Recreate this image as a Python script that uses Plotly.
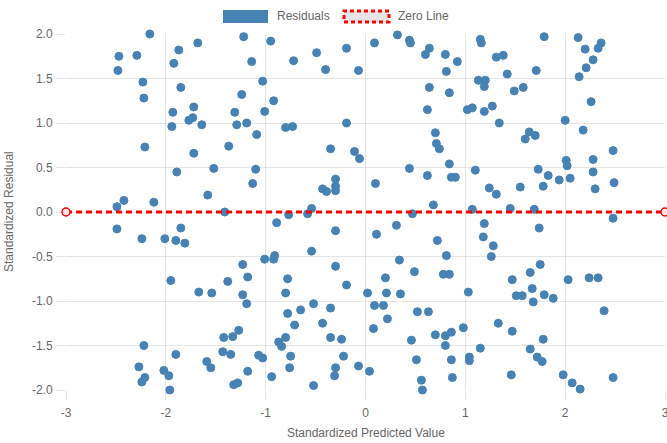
import plotly.graph_objects as go

# Standardized predicted values (x) and standardized residuals (y)
pred_values = [
    -2.47, -2.48, -2.29, -2.16, -2.23, -2.22, -2.21, -2.49, -2.42, -2.12,
    -1.87, -1.92, -1.68, -1.85, -1.93, -1.72, -1.77, -1.73, -1.64, -1.94,
    -1.72, -1.89, -1.52, -1.58, -1.41, -1.22, -1.14, -1.24, -1.31, -1.29,
    -1.19, -1.09, -1.37, -1.10, -1.13,
    -0.95, -1.03, -0.72, -0.49, -0.19, -0.40, -0.07, -0.92, -1.01, -0.80,
    -0.73, -0.19, -0.35, -0.11, -0.06, -0.30, -0.43, -0.39, -0.30, -0.30,
    -0.54, 0.10, 0.09, 0.32, 0.44, 0.45, 0.60, 0.64, 0.80, 0.92,
    0.81, 0.64, 0.84, 0.62, 0.70, 0.71, 0.74, 0.84, 0.44, 0.62,
    0.86, 0.90, 0.68,
    1.15, 1.16, 1.79, 2.13, 2.20, 2.36, 2.33, 1.31, 1.38, 2.28,
    2.21, 2.14, 1.71, 1.42, 1.13, 1.20, 1.19, 1.49, 1.58, 1.02,
    1.07, 1.19, 1.27, 2.26, 1.34, 2.00, 2.18, 1.64, 1.70, 1.60,
    2.48, 2.01, 2.02, 2.28, 2.28, 2.49, 2.30, 1.10, 1.73, 1.83,
    1.94, 2.05, 1.78, 1.55, 1.24, 1.31, 1.07, 1.45, 1.69,
    -2.49, -2.24, -2.01, -1.90, -1.85, -1.81, -1.95, -1.67, -1.54, -1.38,
    -1.23, -1.18, -1.23, -1.19, -2.22, -2.27, -2.21, -2.24, -1.96, -2.02,
    -1.97, -1.90, -1.59, -1.55, -1.43, -1.42, -1.33, -1.27, -1.35, -1.18,
    -1.32, -1.28, -1.07,
    -0.58, -0.77, 0.47, -0.89, -0.30, 0.11, 0.31, 0.72, -1.01, -0.92,
    -0.91, -0.54, -0.30, -0.19, 0.34, 0.49, 0.81, 0.78, 0.84, -0.78,
    -0.80, 0.02, 0.20, 0.21, 0.35, -0.52, -0.78, -0.65, -0.35, -0.71,
    -0.43, 0.09, 0.18, 0.22, 0.08, 0.52, 0.63, -0.87, -0.80, -0.84,
    -0.35, -0.24, 0.46, 0.70, 0.80, 0.86, 0.80, -1.03, -0.75, -0.76,
    -0.94, -0.22, -0.30, -0.31, -0.52, -0.07, 0.04, 0.51, 0.56, 0.57,
    0.86, 0.87,
    2.48, 1.19, 1.18, 1.74, 1.28, 1.26, 1.75, 1.65, 1.47, 2.03,
    2.24, 2.33, 1.03, 1.51, 1.57, 1.67, 1.79, 1.88, 1.68, 2.39,
    0.98, 1.33, 1.47, 1.78, 1.15, 1.65, 1.04, 1.04, 1.72, 1.77,
    1.46, 1.98, 2.07, 2.15, 2.48,
]
residuals = [
    1.75, 1.59, 1.76, 2.00, 1.46, 1.28, 0.73, 0.06, 0.13, 0.11,
    1.82, 1.67, 1.90, 1.40, 1.12, 1.18, 1.03, 1.06, 0.98, 0.96,
    0.66, 0.45, 0.49, 0.19, 0.00, 1.97, 1.69, 1.32, 1.12, 0.98,
    1.00, 0.87, 0.74, 0.48, 0.32,
    1.92, 1.47, 1.70, 1.79, 1.84, 1.60, 1.59, 1.25, 1.13, 0.95,
    0.96, 1.00, 0.71, 0.68, 0.60, 0.37, 0.26, 0.23, 0.29, 0.24,
    0.04, 0.32, 1.90, 1.99, 1.93, 1.90, 1.77, 1.84, 1.77, 1.69,
    1.58, 1.40, 1.34, 1.15, 0.89, 0.77, 0.71, 0.54, 0.49, 0.41,
    0.39, 0.39, 0.08,
    1.94, 1.90, 1.97, 1.96, 1.83, 1.90, 1.84, 1.74, 1.76, 1.71,
    1.62, 1.52, 1.59, 1.55, 1.48, 1.48, 1.41, 1.36, 1.40, 1.15,
    1.17, 1.13, 1.19, 1.24, 1.00, 1.03, 0.92, 0.90, 0.86, 0.82,
    0.69, 0.58, 0.52, 0.59, 0.45, 0.33, 0.26, 0.47, 0.48, 0.41,
    0.36, 0.38, 0.29, 0.28, 0.27, 0.20, 0.03, 0.04, 0.03,
    -0.19, -0.30, -0.30, -0.32, -0.18, -0.35, -0.77, -0.90, -0.91, -0.78,
    -0.59, -0.73, -0.93, -1.03, -1.50, -1.74, -1.86, -1.91, -2.00, -1.78,
    -1.84, -1.60, -1.68, -1.75, -1.57, -1.41, -1.40, -1.33, -1.60, -1.79,
    -1.94, -1.92, -1.61,
    -0.02, -0.03, -0.02, -0.12, -0.21, -0.25, -0.15, -0.32, -0.53, -0.53,
    -0.49, -0.44, -0.61, -0.82, -0.54, -0.67, -0.49, -0.70, -0.70, -0.75,
    -0.91, -0.91, -0.74, -0.91, -0.92, -1.03, -1.14, -1.10, -1.08, -1.27,
    -1.25, -1.05, -1.05, -1.20, -1.31, -1.12, -1.12, -1.46, -1.41, -1.51,
    -1.41, -1.43, -1.44, -1.38, -1.39, -1.35, -1.50, -1.64, -1.62, -1.75,
    -1.85, -1.62, -1.75, -1.84, -1.95, -1.73, -1.79, -1.66, -1.89, -2.00,
    -1.66, -1.86,
    -0.07, -0.13, -0.28, -0.18, -0.38, -0.50, -0.59, -0.68, -0.76, -0.76,
    -0.74, -0.74, -0.90, -0.94, -0.94, -0.86, -0.93, -0.97, -1.01, -1.11,
    -1.30, -1.25, -1.34, -1.43, -1.53, -1.54, -1.63, -1.67, -1.63, -1.68,
    -1.83, -1.83, -1.92, -1.99, -1.86,
]

zero_x = [-3, 3]
zero_y = [0, 0]

x_ticks = [-3, -2, -1, 0, 1, 2, 3]
y_ticks = [-2.0, -1.5, -1.0, -0.5, 0.0, 0.5, 1.0, 1.5, 2.0]

series_names = ["Residuals", "Zero Line"]
x_title = "Standardized Predicted Value"
y_title = "Standardized Residual"

FONT = "Liberation Sans, Arial, Helvetica, sans-serif"
GREY = "#666666"
STEEL = "#4682B4"

# plot area in page pixels (the page's body margin is removed below)
FIG_W, FIG_H = 667, 443
PL, PR, PT, PB = 66, 665, 34, 390
ML, MT = PL, PT
MR = FIG_W - PR
MB = FIG_H - PB
W = PR - PL
H = PB - PT


def px_x(p):
    return (p - PL) / W


def px_y(p):
    return (PB - p) / H


fig = go.Figure()

fig.add_trace(go.Scatter(
    x=pred_values, y=residuals, mode="markers", name=series_names[0],
    marker=dict(size=8, color=STEEL, line=dict(width=1, color=STEEL)),
    cliponaxis=False, showlegend=False,
))

fig.add_trace(go.Scatter(
    x=zero_x, y=zero_y, mode="lines+markers", name=series_names[1],
    line=dict(color="red", width=3, dash="6px,4px"),
    marker=dict(size=8, color="rgba(255,230,230,1)", line=dict(width=1.5, color="red")),
    cliponaxis=False, showlegend=False,
))

axis_common = dict(
    showgrid=True, gridcolor="rgba(0,0,0,0.1)", gridwidth=1,
    zeroline=False, showline=False,
    ticks="outside", ticklen=9, tickcolor="rgba(0,0,0,0.1)",
    tickfont=dict(family=FONT, size=12, color=GREY),
    ticklabeloverflow="allow",
)

fig.update_xaxes(
    range=[-3, 3], tickvals=x_ticks, ticktext=[str(v) for v in x_ticks],
    ticklabelstandoff=3, **axis_common,
)
fig.update_yaxes(
    range=[-2, 2], tickvals=y_ticks, ticktext=[f"{v:.1f}" for v in y_ticks],
    ticklabelstandoff=1, **axis_common,
)

# axis titles
fig.add_annotation(xref="paper", yref="paper", x=px_x(365.5), y=px_y(433),
                   text=x_title, showarrow=False, xanchor="center", yanchor="middle",
                   font=dict(family=FONT, size=12, color=GREY))
fig.add_annotation(xref="paper", yref="paper", x=px_x(9), y=px_y(212),
                   text=y_title, showarrow=False, xanchor="center", yanchor="middle",
                   textangle=-90, font=dict(family=FONT, size=12, color=GREY))

# custom legend (box swatches, as in the reference)
fig.add_shape(type="rect", xref="paper", yref="paper",
              x0=px_x(223), x1=px_x(268), y0=px_y(23), y1=px_y(10),
              fillcolor=STEEL, line=dict(width=0))
fig.add_shape(type="rect", xref="paper", yref="paper",
              x0=px_x(344), x1=px_x(389), y0=px_y(22), y1=px_y(11),
              fillcolor="rgba(0,0,0,0.1)", line=dict(width=3, color="red", dash="4px,3px"))
fig.add_annotation(xref="paper", yref="paper", x=px_x(275), y=px_y(16.5),
                   text=series_names[0], showarrow=False, xanchor="left", yanchor="middle",
                   font=dict(family=FONT, size=12, color=GREY))
fig.add_annotation(xref="paper", yref="paper", x=px_x(396), y=px_y(16.5),
                   text=series_names[1], showarrow=False, xanchor="left", yanchor="middle",
                   font=dict(family=FONT, size=12, color=GREY))

fig.update_layout(
    width=FIG_W, height=FIG_H,
    margin=dict(l=ML, r=MR, t=MT, b=MB, autoexpand=False),
    plot_bgcolor="white", paper_bgcolor="white",
    showlegend=False,
    hovermode=False,
    font=dict(family=FONT, size=12, color=GREY),
)

fig.write_html(
    "out.html",
    config={"displayModeBar": False},
    post_script="document.body.style.margin='0';document.body.style.overflow='hidden';",
)
